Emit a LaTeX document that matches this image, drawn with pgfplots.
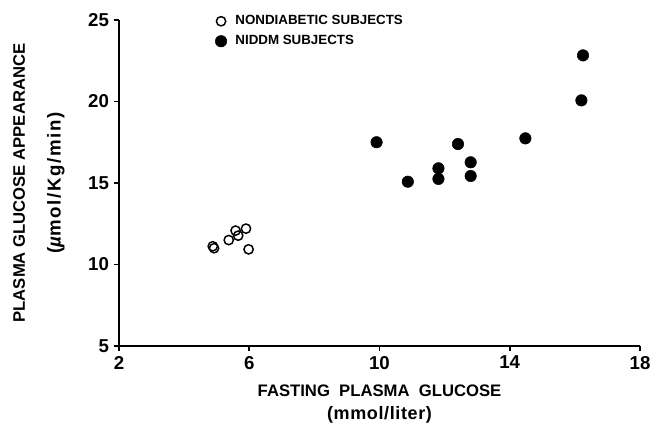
\documentclass[border=0pt]{standalone}
\usepackage{fontspec}
\setmainfont{Liberation Sans}
\usepackage{pgfplots}
\pgfplotsset{compat=1.18}
\begin{document}
\begin{tikzpicture}[x=1pt,y=1pt]
\useasboundingbox (-89.25,-60) rectangle (400.5,259.5);
\begin{axis}[
  at={(0,0)}, anchor=south west,
  width=390.75pt, height=244.5pt, scale only axis,
  xmin=2, xmax=18, ymin=5, ymax=25,
  axis x line*=bottom, axis y line*=left,
  xtick={2,6,10,14,18}, ytick={5,10,15,20,25},
  tick align=outside, major tick length=4pt,
  tick style={line width=1.2pt, black},
  axis line style={line width=1.5pt},
  tick label style={font=\bfseries\fontsize{14}{16}\selectfont},
  /pgf/number format/assume math mode=true,
  clip=false,
  legend image code/.code={\draw[#1] plot coordinates {(0pt,0pt)};},
  legend style={at={(axis cs:4.95,25.45)}, anchor=north west, draw=none, fill=none,
    font=\bfseries\fontsize{10}{11}\selectfont, row sep=2.5pt, inner sep=0pt,
    cells={anchor=west}, /tikz/every odd column/.append style={column sep=4.5pt}},
]
\addplot[only marks, mark=o, mark size=3.5pt, mark options={line width=1.1pt, black}]
  coordinates {(4.88,11.12) (4.92,11.0) (5.37,11.5) (5.58,12.08) (5.66,11.77) (5.9,12.2) (5.98,10.93)};
\addlegendentry{NONDIABETIC SUBJECTS}
\addplot[only marks, mark=*, mark size=4.3pt, mark options={black, fill=black}]
  coordinates {(9.91,17.5) (10.87,15.08) (11.81,15.9) (11.81,15.25) (12.41,17.39) (12.80,16.27) (12.80,15.43) (14.48,17.74) (16.2,20.07) (16.25,22.83)};
\addlegendentry{NIDDM SUBJECTS}
\node[font=\bfseries\fontsize{12.5}{14}\selectfont, anchor=base, yshift=-37.5pt] at (rel axis cs:0.5,0) {FASTING\ \ PLASMA\ \ GLUCOSE};
\node[font=\bfseries\fontsize{13.5}{15}\selectfont\addfontfeature{LetterSpace=3.5}, anchor=base, yshift=-54.75pt] at (rel axis cs:0.5,0) {(mmol/liter)};
\node[font=\bfseries\fontsize{12.5}{14}\selectfont, anchor=base, rotate=90] at ([xshift=-70.5pt]rel axis cs:0,0.5) {PLASMA GLUCOSE APPEARANCE};
\node[font=\bfseries\fontsize{14}{16}\selectfont\addfontfeature{LetterSpace=8.5}, anchor=base, rotate=90] at ([xshift=-43.8pt]rel axis cs:0,0.5) {({\itshape µ}mol/Kg/min)};
\end{axis}
\end{tikzpicture}
\end{document}
